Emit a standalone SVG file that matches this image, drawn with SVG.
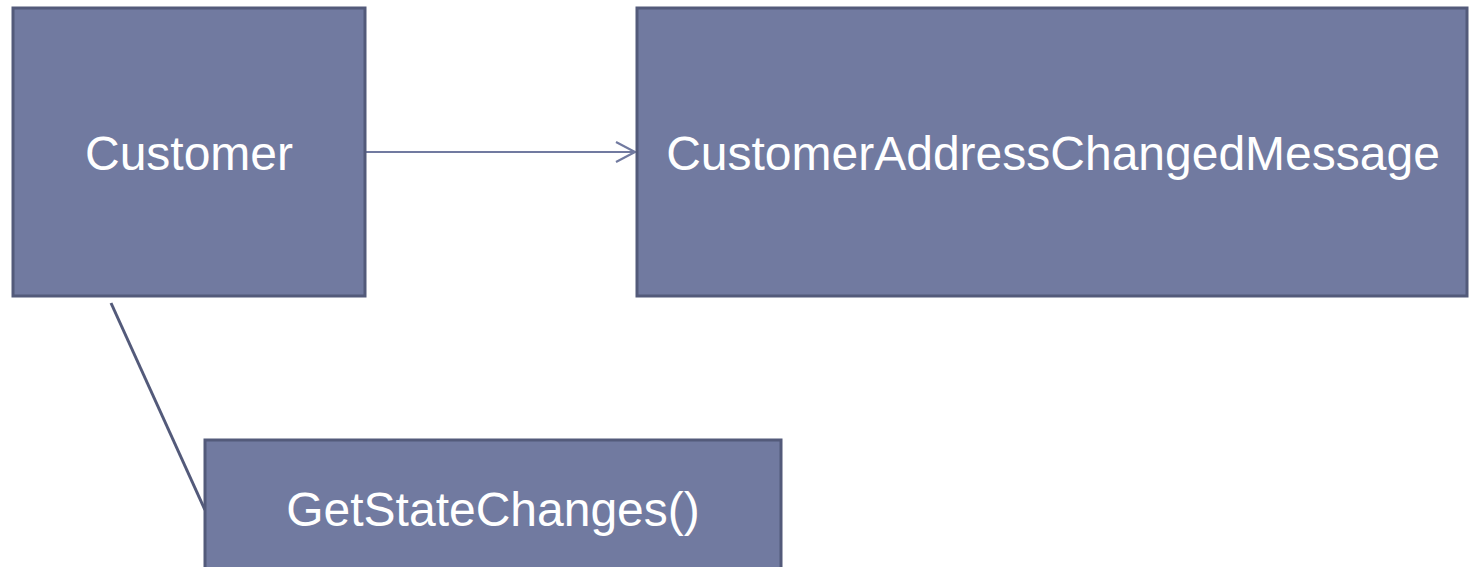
<svg xmlns="http://www.w3.org/2000/svg" width="1476" height="567" viewBox="0 0 1476 567">
<style>
.box{fill:#717aa0;stroke:#535a7a;stroke-width:3}
.lbl{font-family:"Liberation Sans",Arial,sans-serif;font-size:48px;fill:#ffffff;text-anchor:middle}
</style>
<defs>
<marker id="arr" markerWidth="24" markerHeight="24" refX="20" refY="12" orient="auto" markerUnits="userSpaceOnUse">
<path d="M1,2 L20,12 L1,22" fill="none" stroke="#717aa0" stroke-width="2.2"/>
</marker>
</defs>
<rect width="1476" height="567" fill="#ffffff"/>
<g id="connectors">
<line x1="366" y1="152" x2="635" y2="152" stroke="#717aa0" stroke-width="2.2" marker-end="url(#arr)"/>
<line x1="111" y1="303" x2="205" y2="510" stroke="#535a7a" stroke-width="3"/>
</g>
<g id="customer">
<rect class="box" x="13" y="8" width="352" height="288"/>
<text class="lbl" x="189" y="170">Customer</text>
</g>
<g id="message">
<rect class="box" x="637" y="8" width="830" height="288"/>
<text class="lbl" x="1053" y="170">CustomerAddressChangedMessage</text>
</g>
<g id="getstatechanges">
<rect class="box" x="205" y="440" width="576" height="140"/>
<text class="lbl" x="493" y="526">GetStateChanges()</text>
</g>
</svg>
